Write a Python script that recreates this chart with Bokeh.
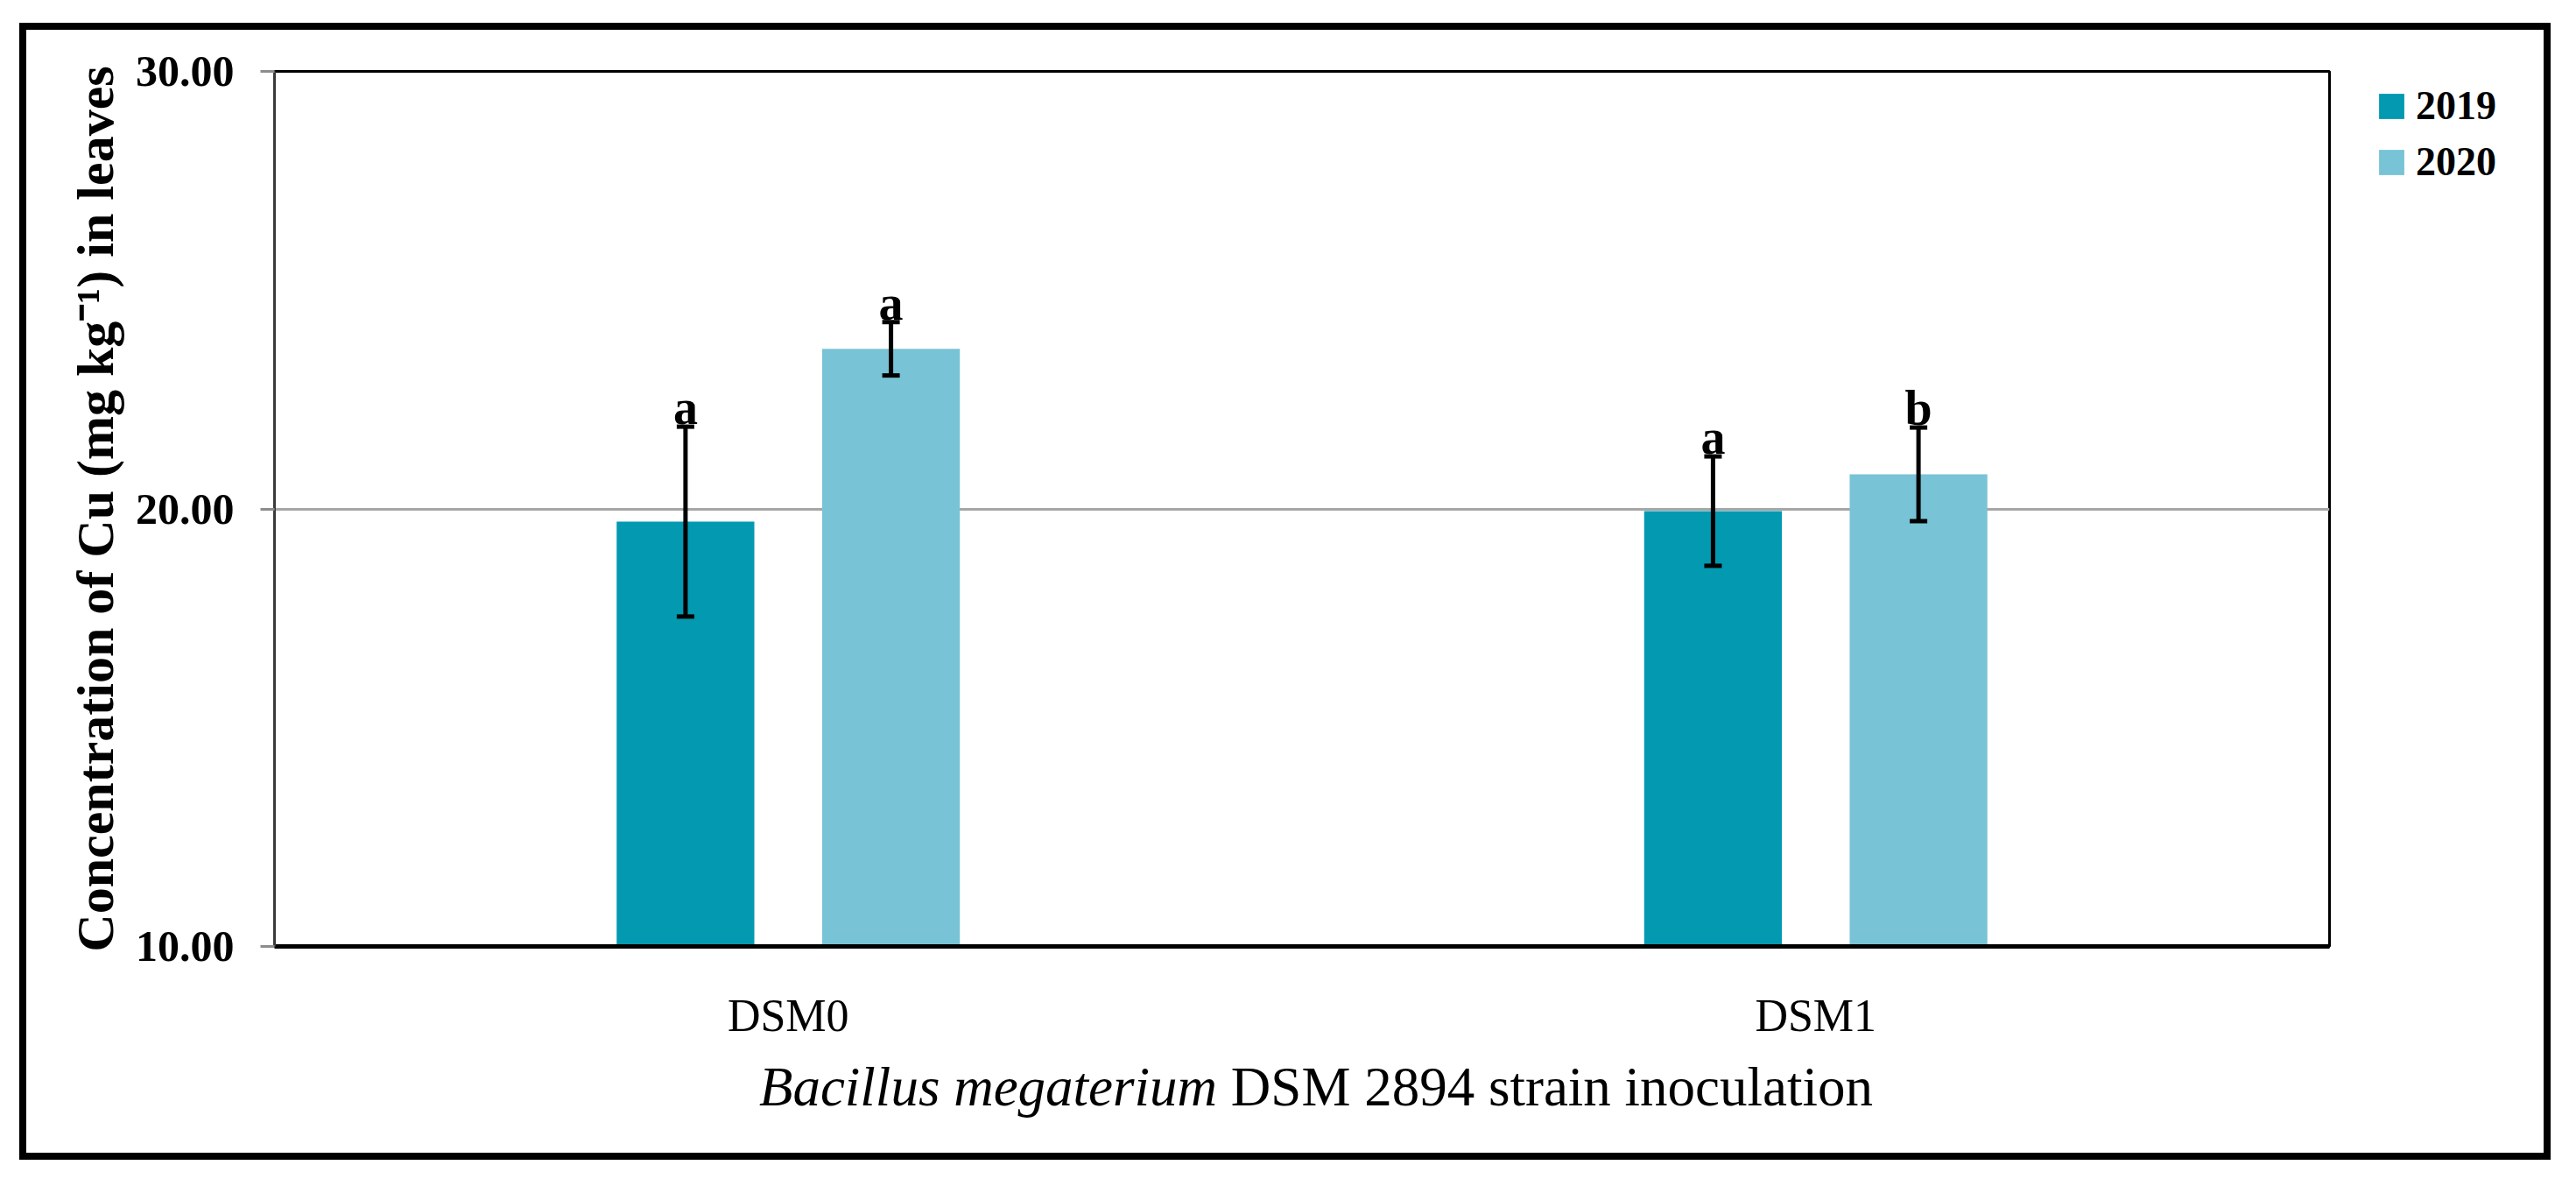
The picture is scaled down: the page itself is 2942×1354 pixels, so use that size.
from bokeh.plotting import figure
from bokeh.layouts import column, row
from bokeh.models import (FactorRange, Range1d, ColumnDataSource, Whisker, TeeHead, Legend,
                          LegendItem, Div, FixedTicker, NumeralTickFormatter)
from bokeh.transform import dodge
from bokeh.core.properties import value
from bokeh.embed import file_html
from bokeh.resources import INLINE

# ---- data ----
categories = ["DSM0", "DSM1"]
years = ["2019", "2020"]
mean_2019 = [19.71, 19.95]
mean_2020 = [23.66, 20.79]
err_2019 = [2.17, 1.25]
err_2020 = [0.61, 1.07]
letters_2019 = ["a", "a"]
letters_2020 = ["a", "b"]
y_ticks = [10, 20, 30]
y_label = "Concentration of Cu (mg kg\u207b\u00b9) in leaves"
x_label_italic = "Bacillus megaterium"
x_label_rest = "DSM 2894 strain inoculation"

colors = {"2019": "#0299B1", "2020": "#78C3D6"}
FONT = "Liberation Serif"

src = ColumnDataSource(dict(
    cat=categories,
    m19=mean_2019, m20=mean_2020,
    up19=[m + e for m, e in zip(mean_2019, err_2019)],
    lo19=[m - e for m, e in zip(mean_2019, err_2019)],
    up20=[m + e for m, e in zip(mean_2020, err_2020)],
    lo20=[m - e for m, e in zip(mean_2020, err_2020)],
    l19=letters_2019, l20=letters_2020,
))

# ---------------- main chart ----------------
p = figure(width=2664, height=1200,
           x_range=FactorRange(*categories, range_padding=0),
           y_range=Range1d(10, 30),
           output_backend="svg", toolbar_location=None,
           min_border_left=313, min_border_right=4,
           min_border_top=81, min_border_bottom=120)
p.background_fill_color = "white"
p.border_fill_color = "white"
p.outline_line_color = "black"
p.outline_line_width = 3

offsets = {"2019": -0.1, "2020": 0.1}
for yr, mcol, ucol, lcol, tcol in [("2019", "m19", "up19", "lo19", "l19"),
                                   ("2020", "m20", "up20", "lo20", "l20")]:
    xs = dodge("cat", offsets[yr], range=p.x_range)
    p.vbar(x=xs, top=mcol, bottom=10, width=0.134, source=src,
           fill_color=colors[yr], line_color=None)
    w = Whisker(base=xs, upper=ucol, lower=lcol, source=src, level="overlay",
                line_color="black", line_width=5,
                upper_head=TeeHead(size=20, line_width=5, line_color="black"),
                lower_head=TeeHead(size=20, line_width=5, line_color="black"))
    p.add_layout(w)
    p.text(x=xs, y=ucol, text=tcol, source=src, text_align="center",
           text_baseline="alphabetic", y_offset=-22,
           text_font=value(FONT), text_font_size="56px",
           text_font_style="bold", text_color="black")

# y axis
p.yaxis.ticker = FixedTicker(ticks=y_ticks)
p.yaxis.formatter = NumeralTickFormatter(format="0.00")
p.yaxis.major_label_text_font = FONT
p.yaxis.major_label_text_font_size = "50px"
p.yaxis.major_label_text_font_style = "bold"
p.yaxis.major_label_text_color = "black"
p.yaxis.major_label_standoff = 30
p.yaxis.axis_line_color = "#3a3a3a"
p.yaxis.axis_line_width = 3
p.yaxis.major_tick_line_color = "#8c8c8c"
p.yaxis.major_tick_line_width = 3
p.yaxis.major_tick_in = 0
p.yaxis.major_tick_out = 16
p.yaxis.minor_tick_line_color = None
p.yaxis.axis_label = y_label
p.yaxis.axis_label_text_font = FONT
p.yaxis.axis_label_text_font_size = "60px"
p.yaxis.axis_label_text_font_style = "bold"
p.yaxis.axis_label_text_color = "black"
p.yaxis.axis_label_standoff = 10

# x axis
p.xaxis.axis_line_color = "black"
p.xaxis.axis_line_width = 5
p.xaxis.major_tick_line_color = None
p.xaxis.minor_tick_line_color = None
p.xaxis.major_label_text_font = FONT
p.xaxis.major_label_text_font_size = "52px"
p.xaxis.major_label_text_font_style = "normal"
p.xaxis.major_label_text_color = "black"
p.xaxis.major_label_standoff = 44

# grid
p.xgrid.grid_line_color = None
p.ygrid.ticker = FixedTicker(ticks=[20])
p.ygrid.grid_line_color = "#a6a6a6"
p.ygrid.grid_line_width = 3

# ---------------- legend strip (right of the plot box) ----------------
pl = figure(width=278, height=1200, x_range=Range1d(0, 1), y_range=Range1d(0, 1),
            x_axis_type=None, y_axis_type=None,
            output_backend="svg", toolbar_location=None,
            min_border_left=0, min_border_right=0, min_border_top=81, min_border_bottom=0)
pl.outline_line_color = None
pl.background_fill_color = "white"
pl.border_fill_color = "white"
pl.grid.visible = False
key_renderers = {}
for yr in years:
    # zero-size key glyph: only its colour is used by the legend swatch
    key_renderers[yr] = pl.vbar(x=[0.5], top=[0], bottom=[0], width=0,
                                fill_color=colors[yr], line_color=None)
legend = Legend(items=[LegendItem(label=yr, renderers=[key_renderers[yr]]) for yr in years],
                location="top_left", orientation="vertical",
                title=" ", title_location="left", title_standoff=25,
                title_text_font_size="10px",
                glyph_width=36, glyph_height=36,
                label_standoff=10, spacing=11, padding=0, margin=13,
                border_line_color=None, background_fill_alpha=0,
                label_text_font=FONT, label_text_font_size="46px",
                label_text_font_style="bold", label_text_color="black")
pl.add_layout(legend)

# ---------------- x axis title + outer frame of the picture ----------------
x_title_html = (
    '<div style="position:fixed; left:22px; top:26px; width:2891px; height:1298px; '
    'border:8px solid black; box-sizing:border-box; pointer-events:none;"></div>'
    '<div style="font-family:\'Liberation Serif\'; font-size:63px; line-height:60px; '
    'color:black; text-align:center; width:2942px; padding-left:54px; padding-top:6px; '
    'box-sizing:border-box; white-space:nowrap;">'
    f'<i>{x_label_italic}</i> {x_label_rest}</div>'
)
d = Div(text=x_title_html, width=2942, height=150)

layout = column(row(p, pl, spacing=0), d, spacing=0)
open("out.html", "w").write(file_html(layout, INLINE))
